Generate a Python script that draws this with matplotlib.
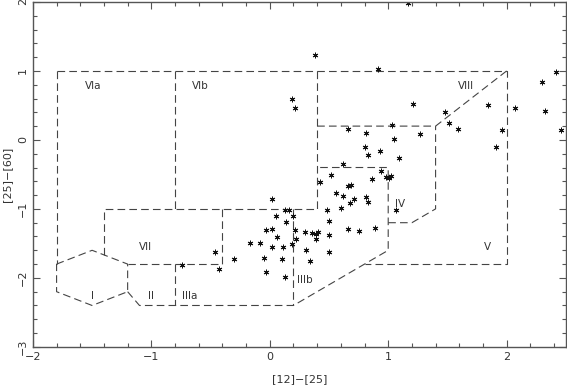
import matplotlib
matplotlib.use("Agg")
import matplotlib.pyplot as plt
from matplotlib.ticker import MultipleLocator

# IRAS colours of the sources
c12_25 = [0.02, 0.13, 0.16, 0.05, 0.20, 0.14, -0.03, 0.02, 0.21, 0.30, 0.06, 0.22,
          -0.17, -0.08, 0.02, 0.11, 0.19, -0.46, 0.31, -0.30, -0.05, 0.10, 0.34,
          -0.74, -0.43, -0.03, 0.13,
          1.03, 0.66, 0.81, 1.27, 1.05, 0.80, 0.93, 0.83, 1.09, 0.62, 0.94, 0.52,
          0.86, 0.98, 1.01, 1.02, 0.42, 0.66, 0.69, 0.56, 0.62, 0.71, 0.81, 0.83,
          0.68, 0.60, 0.48, 1.07, 0.50, 0.36, 0.39, 0.41, 0.39, 0.50, 0.66, 0.75,
          0.89, 0.50,
          0.38, 0.91, 0.19, 0.21, 1.17, 1.21, 1.48, 1.51, 1.59, 1.84, 1.96, 1.91,
          2.07, 2.30, 2.42, 2.32, 2.46]
c25_60 = [-0.86, -1.02, -1.01, -1.10, -1.10, -1.19, -1.31, -1.29, -1.30, -1.34, -1.41, -1.44,
          -1.50, -1.50, -1.55, -1.55, -1.51, -1.63, -1.60, -1.72, -1.71, -1.72, -1.75,
          -1.81, -1.87, -1.91, -1.99,
          0.21, 0.16, 0.10, 0.08, 0.02, -0.10, -0.16, -0.22, -0.26, -0.35, -0.45, -0.51,
          -0.56, -0.54, -0.55, -0.53, -0.61, -0.67, -0.66, -0.77, -0.81, -0.85, -0.83, -0.90,
          -0.91, -0.99, -1.01, -1.01, -1.17, -1.35, -1.36, -1.33, -1.44, -1.38, -1.29, -1.32,
          -1.27, -1.63,
          1.23, 1.03, 0.59, 0.46, 1.98, 0.52, 0.41, 0.25, 0.16, 0.50, 0.15, -0.11,
          0.46, 0.84, 0.99, 0.42, 0.15]

# van der Veen & Habing region boundaries (polylines)
boundaries = [
    [(-1.8, 1.0), (2.0, 1.0), (2.0, -1.8), (0.8, -1.8)],
    [(-1.8, 1.0), (-1.8, -1.8)],
    [(-1.8, -1.8), (-1.5, -1.6), (-1.2, -1.8), (-1.2, -2.2), (-1.5, -2.4), (-1.8, -2.2), (-1.8, -1.8)],
    [(-0.8, 1.0), (-0.8, -1.0)],
    [(0.4, 1.0), (0.4, -1.0)],
    [(-1.4, -1.667), (-1.4, -1.0), (0.4, -1.0)],
    [(-0.4, -1.0), (-0.4, -1.8), (-1.2, -1.8)],
    [(-1.2, -2.2), (-1.1, -2.4), (0.2, -2.4), (1.0, -1.6), (1.0, -0.4), (0.4, -0.4)],
    [(-0.8, -1.8), (-0.8, -2.4)],
    [(0.2, -1.0), (0.2, -2.4)],
    [(0.4, 0.2), (1.4, 0.2), (2.0, 1.0)],
    [(1.0, -1.2), (1.2, -1.2), (1.4, -1.0), (1.4, 0.2)],
]

region_names = ["VIa", "VIb", "VIII", "VII", "I", "II", "IIIa", "IIIb", "IV", "V"]
region_x = [-1.49, -0.59, 1.66, -1.05, -1.5, -1.0, -0.68, 0.3, 1.1, 1.84]
region_y = [0.78, 0.78, 0.78, -1.55, -2.26, -2.26, -2.26, -2.03, -0.93, -1.55]

plt.rcParams["lines.scale_dashes"] = False
ink = "#333333"

fig = plt.figure(figsize=(5.67, 3.85), dpi=100)
ax = fig.add_axes([0.058, 0.099, 0.940, 0.896])

for line in boundaries:
    xs = [p[0] for p in line]
    ys = [p[1] for p in line]
    ax.plot(xs, ys, color="#444444", lw=0.8, dashes=(5.5, 3))

for name, x, y in zip(region_names, region_x, region_y):
    ax.text(x, y, name, fontsize=7.5, color=ink, ha="center", va="center")

ax.plot(c12_25, c25_60, ls="none", marker=(6, 2, 0), ms=4, mew=0.7, color="#111111")

ax.set_xlim(-2, 2.5)
ax.set_ylim(-3, 2)
ax.xaxis.set_major_locator(MultipleLocator(1))
ax.xaxis.set_minor_locator(MultipleLocator(0.2))
ax.yaxis.set_major_locator(MultipleLocator(1))
ax.yaxis.set_minor_locator(MultipleLocator(0.2))
ax.tick_params(which="both", direction="in", top=True, right=True, colors="#555555",
               labelcolor=ink, labelsize=8, width=0.8)
ax.tick_params(which="major", length=5)
ax.tick_params(which="minor", length=3)
for lab in ax.get_yticklabels():
    lab.set_rotation(90)
    lab.set_va("center")
for sp in ax.spines.values():
    sp.set_color("#555555")
    sp.set_linewidth(1.0)

ax.set_xlabel("[12]−[25]", fontsize=8, color=ink, labelpad=9)
ax.set_ylabel("[25]−[60]", fontsize=8, color=ink, labelpad=4)

fig.savefig("out.png", dpi=100)
